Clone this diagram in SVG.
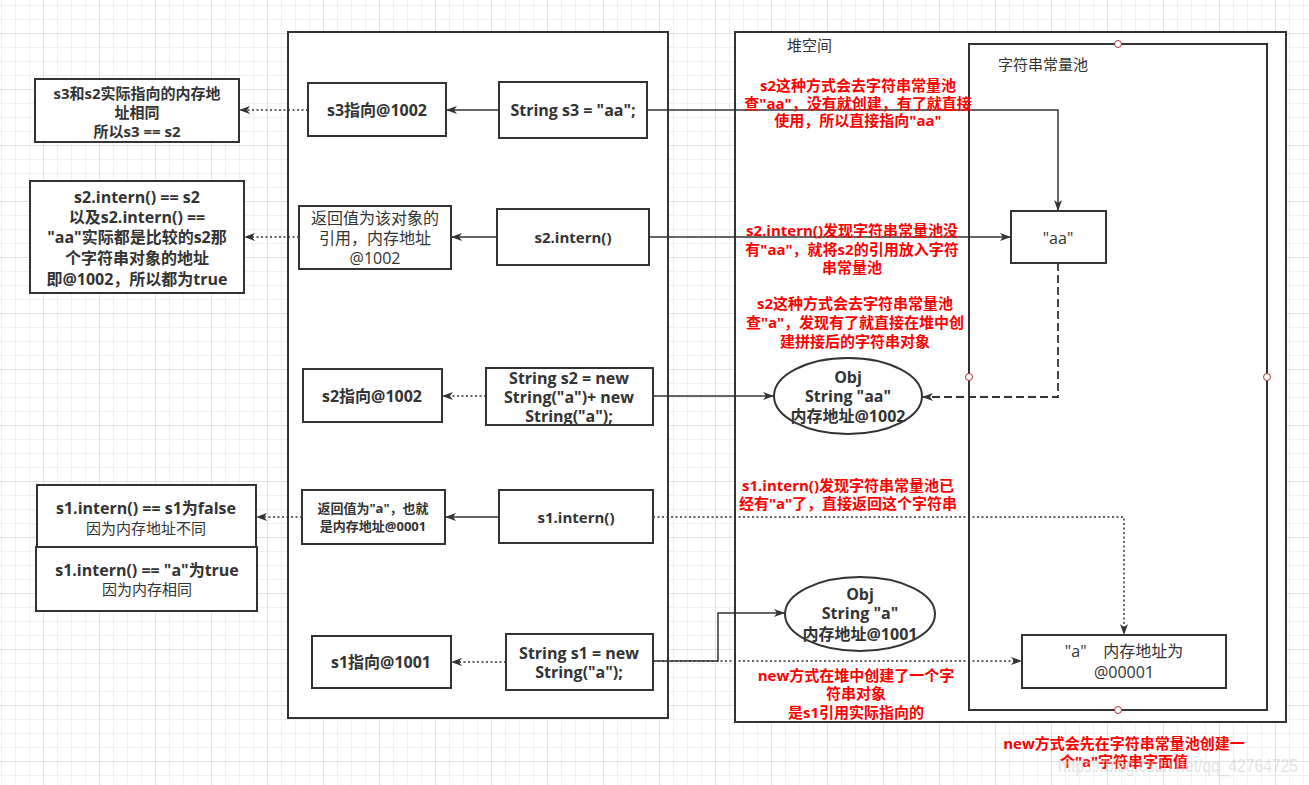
<svg xmlns="http://www.w3.org/2000/svg" width="1309" height="785" viewBox="0 0 1309 785">
<defs>
<pattern id="grid" x="43" y="33" width="56" height="56" patternUnits="userSpaceOnUse">
<rect x="14" y="0" width="1" height="56" fill="#f0f0f0"/>
<rect x="28" y="0" width="1" height="56" fill="#f0f0f0"/>
<rect x="42" y="0" width="1" height="56" fill="#f0f0f0"/>
<rect x="0" y="14" width="56" height="1" fill="#f0f0f0"/>
<rect x="0" y="28" width="56" height="1" fill="#f0f0f0"/>
<rect x="0" y="42" width="56" height="1" fill="#f0f0f0"/>
<rect x="0" y="0" width="1" height="56" fill="#e2e2e2"/>
<rect x="0" y="0" width="56" height="1" fill="#e2e2e2"/>
</pattern>
<marker id="arr" markerUnits="userSpaceOnUse" markerWidth="12" markerHeight="9" refX="11" refY="4" orient="auto">
<path d="M0,0 L11,4 L0,8 L3,4 Z" fill="#333"/>
</marker>
<style>
text{font-family:"Open Sans","Noto Sans CJK SC",sans-serif;fill:#333;text-anchor:middle;dominant-baseline:central}
.b{font-weight:bold}
.f14{font-size:14px}.f15{font-size:15px}.f16{font-size:16px}.f13{font-size:13px}
.r{fill:#ff0000;font-weight:bold;font-size:15px}
.box{fill:#fff;stroke:#333;stroke-width:2}
.ln{fill:none;stroke:#333;stroke-width:1.5}
.dot{stroke-dasharray:2 2.5}
.dash{stroke-dasharray:8 4;stroke-width:1.8}
.cp{fill:#fff;stroke:#a33;stroke-width:1}
.lbl{text-anchor:start}
</style>
</defs>
<rect x="0" y="0" width="1309" height="785" fill="#fff"/>
<rect x="0" y="0" width="1309" height="785" fill="url(#grid)"/>

<g id="stack">
<rect class="box" x="288" y="32" width="380" height="686"/>
</g>
<g id="heap">
<rect class="box" x="735" y="32" width="551" height="690"/>
<text class="f15 lbl" x="787" y="45">堆空间</text>
</g>
<g id="pool">
<rect class="box" x="969" y="44" width="298" height="666"/>
<text class="f15 lbl" x="998" y="64">字符串常量池</text>
<circle class="cp" cx="1118" cy="44" r="3.5"/>
<circle class="cp" cx="969" cy="377" r="3.5"/>
<circle class="cp" cx="1267" cy="377" r="3.5"/>
<circle class="cp" cx="1118" cy="710" r="3.5"/>
</g>

<g id="connectors">
<path class="ln" d="M499,110 H446" marker-end="url(#arr)"/>
<path class="ln dot" d="M308,110 H239" marker-end="url(#arr)"/>
<path class="ln" d="M647,110 H1058 V211" marker-end="url(#arr)"/>
<path class="ln" d="M497,237 H451" marker-end="url(#arr)"/>
<path class="ln dot" d="M299,237 H244" marker-end="url(#arr)"/>
<path class="ln" d="M649,237 H1011" marker-end="url(#arr)"/>
<path class="ln dot" d="M486,396 H442" marker-end="url(#arr)"/>
<path class="ln" d="M653,396 H774" marker-end="url(#arr)"/>
<path class="ln dash" d="M1058,263 V397 H922" marker-end="url(#arr)"/>
<path class="ln" d="M499,517 H445" marker-end="url(#arr)"/>
<path class="ln dot" d="M302,517 H256" marker-end="url(#arr)"/>
<path class="ln dot" d="M653,517 H1124 V635" marker-end="url(#arr)"/>
<path class="ln dot" d="M506,662 H451" marker-end="url(#arr)"/>
<path class="ln dot" d="M653,661 H1022" marker-end="url(#arr)"/>
<path class="ln" d="M653,661 H718 V613 H785" marker-end="url(#arr)"/>
</g>

<g id="noteA">
<rect class="box" x="35" y="79" width="204" height="63"/>
<text class="b f15" x="137" y="93">s3和s2实际指向的内存地</text>
<text class="b f15" x="137" y="112">址相同</text>
<text class="b f15" x="137" y="131">所以s3 == s2</text>
</g>
<g id="noteB">
<rect class="box" x="30" y="181" width="214" height="112"/>
<text class="b f16" x="137" y="197">s2.intern() == s2</text>
<text class="b f16" x="137" y="217">以及s2.intern() ==</text>
<text class="b f16" x="137" y="237">"aa"实际都是比较的s2那</text>
<text class="b f16" x="137" y="258">个字符串对象的地址</text>
<text class="b f16" x="137" y="279">即@1002，所以都为true</text>
</g>
<g id="noteC">
<rect class="box" x="37" y="485" width="219" height="62"/>
<text class="b f16" x="146" y="508">s1.intern() == s1为false</text>
<text class="f15" x="146" y="528">因为内存地址不同</text>
</g>
<g id="noteD">
<rect class="box" x="36" y="547" width="221" height="64"/>
<text class="b f16" x="147" y="570">s1.intern() == "a"为true</text>
<text class="f15" x="147" y="589">因为内存相同</text>
</g>

<g id="s3ref">
<rect class="box" x="308" y="83" width="138" height="53"/>
<text class="b f16" x="377" y="110">s3指向@1002</text>
</g>
<g id="s3stmt">
<rect class="box" x="499" y="82" width="148" height="56"/>
<text class="b f16" x="573" y="110">String s3 = "aa";</text>
</g>
<g id="s2internRet">
<rect class="box" x="299" y="206" width="152" height="63"/>
<text class="f16" x="375" y="218">返回值为该对象的</text>
<text class="f16" x="375" y="238">引用，内存地址</text>
<text class="f16" x="375" y="258">@1002</text>
</g>
<g id="s2intern">
<rect class="box" x="497" y="209" width="152" height="56"/>
<text class="b f15" x="573" y="237">s2.intern()</text>
</g>
<g id="s2ref">
<rect class="box" x="303" y="369" width="139" height="53"/>
<text class="b f16" x="372" y="396">s2指向@1002</text>
</g>
<g id="s2stmt">
<rect class="box" x="486" y="368" width="167" height="57"/>
<text class="b f16" x="569" y="378">String s2 = new</text>
<text class="b f16" x="569" y="397">String("a")+ new</text>
<text class="b f16" x="569" y="416">String("a");</text>
</g>
<g id="s1internRet">
<rect class="box" x="302" y="490" width="143" height="54"/>
<text class="b f13" x="373" y="508">返回值为"a"，也就</text>
<text class="b f13" x="373" y="526">是内存地址@0001</text>
</g>
<g id="s1intern">
<rect class="box" x="499" y="490" width="154" height="53"/>
<text class="b f15" x="576" y="517">s1.intern()</text>
</g>
<g id="s1ref">
<rect class="box" x="312" y="636" width="139" height="52"/>
<text class="b f16" x="381" y="662">s1指向@1001</text>
</g>
<g id="s1stmt">
<rect class="box" x="506" y="634" width="147" height="56"/>
<text class="b f16" x="579" y="653">String s1 = new</text>
<text class="b f16" x="579" y="672">String("a");</text>
</g>

<g id="objAA">
<ellipse class="box" cx="848" cy="396" rx="74" ry="38"/>
<text class="b f16" x="848" y="377">Obj</text>
<text class="b f16" x="848" y="396">String "aa"</text>
<text class="b f16" x="848" y="416">内存地址@1002</text>
</g>
<g id="objA">
<ellipse class="box" cx="860" cy="614" rx="75" ry="37"/>
<text class="b f16" x="860" y="594">Obj</text>
<text class="b f16" x="860" y="613">String "a"</text>
<text class="b f16" x="860" y="634">内存地址@1001</text>
</g>
<g id="poolAA">
<rect class="box" x="1011" y="211" width="95" height="52"/>
<text class="f16" x="1058" y="238">"aa"</text>
</g>
<g id="poolA">
<rect class="box" x="1022" y="635" width="204" height="53"/>
<text class="f16" x="1124" y="651" xml:space="preserve">"a"    内存地址为</text>
<text class="f16" x="1124" y="672">@00001</text>
</g>

<g id="notes-red">
<text class="r" x="858" y="85">s2这种方式会去字符串常量池</text>
<text class="r" x="858" y="103">查"aa"，没有就创建，有了就直接</text>
<text class="r" x="858" y="120">使用，所以直接指向"aa"</text>
<text class="r" x="852" y="230">s2.intern()发现字符串常量池没</text>
<text class="r" x="852" y="249">有"aa"，就将s2的引用放入字符</text>
<text class="r" x="852" y="267">串常量池</text>
<text class="r" x="855" y="303">s2这种方式会去字符串常量池</text>
<text class="r" x="855" y="322">查"a"，发现有了就直接在堆中创</text>
<text class="r" x="855" y="341">建拼接后的字符串对象</text>
<text class="r" x="848" y="485">s1.intern()发现字符串常量池已</text>
<text class="r" x="848" y="503">经有"a"了，直接返回这个字符串</text>
<text class="r" x="856" y="675">new方式在堆中创建了一个字</text>
<text class="r" x="856" y="693">符串对象</text>
<text class="r" x="856" y="712">是s1引用实际指向的</text>
<text class="r" x="1124" y="743">new方式会先在字符串常量池创建一</text>
<text class="r" x="1124" y="761">个"a"字符串字面值</text>
</g>
<text x="1058" y="766" textLength="240" lengthAdjust="spacingAndGlyphs" style="text-anchor:start;font-family:'Liberation Sans',sans-serif;font-size:18px;fill:#d0d0d0;fill-opacity:0.6">https://blog.csdn.net/qq_42764725</text>
</svg>
